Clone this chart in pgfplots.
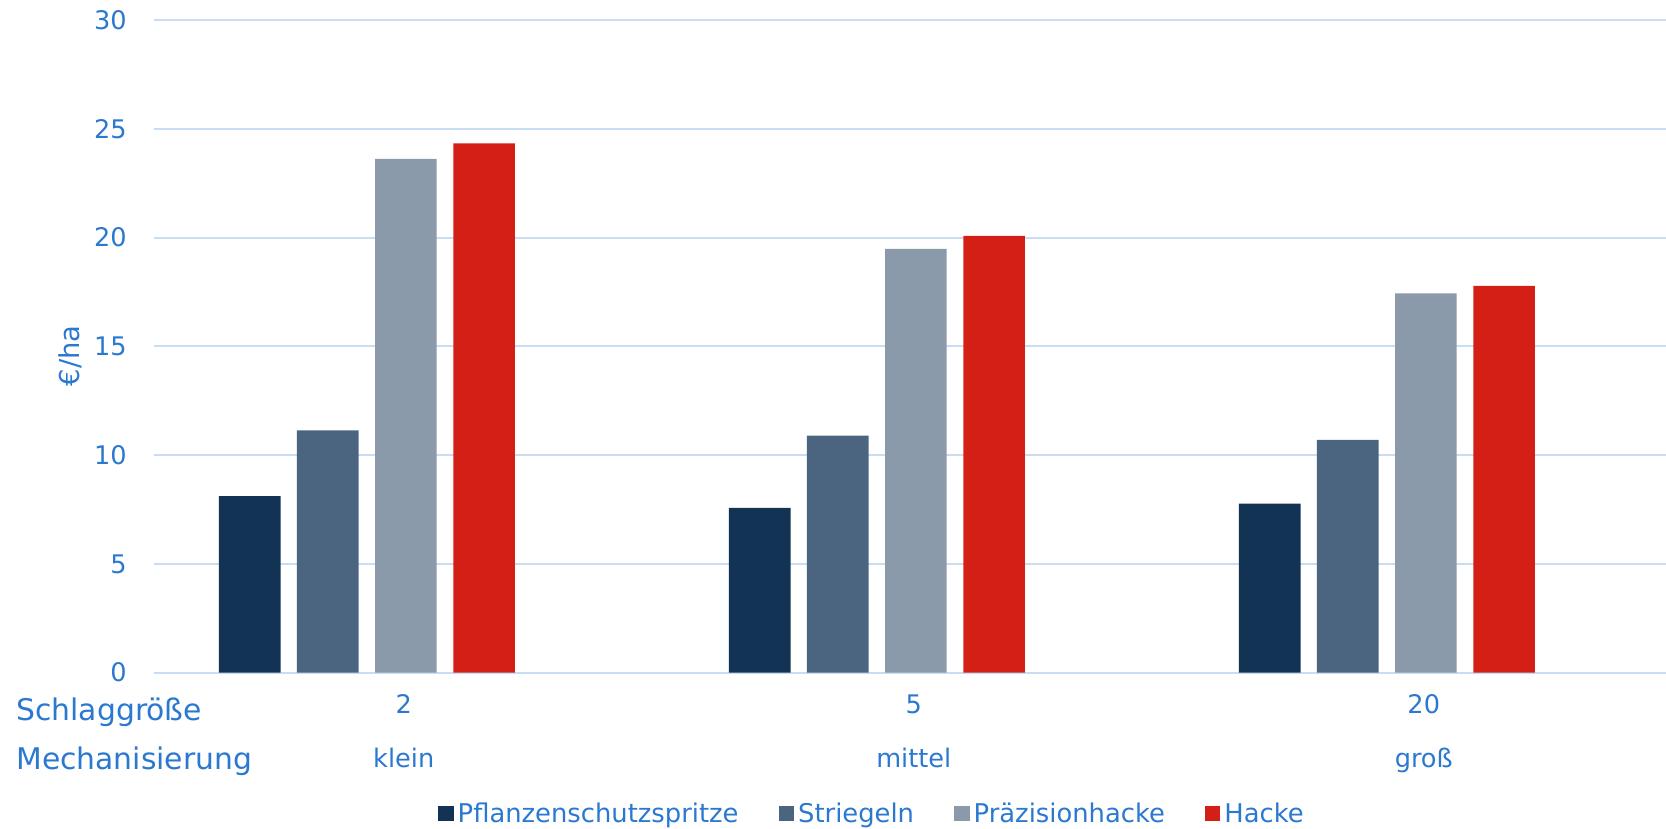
\documentclass[border=0pt]{standalone}
\usepackage{pgfplots}
\pgfplotsset{compat=1.18}
\usepackage{fontspec}
\setmainfont{DejaVu Sans}
\definecolor{txtblue}{HTML}{2B78D0}
\definecolor{gridblue}{HTML}{C8DDF2}
\definecolor{cPfl}{HTML}{133354}
\definecolor{cStr}{HTML}{4B6580}
\definecolor{cPra}{HTML}{8A9AAB}
\definecolor{cHac}{HTML}{D41F16}
\begin{document}
\begin{tikzpicture}[cat/.style={text=txtblue, font=\fontsize{12.8}{15}\selectfont, text height=0.76em, text depth=0.24em}]
\useasboundingbox (-77pt,-78.2pt) rectangle (756pt,336.3pt);
\begin{axis}[
  at={(0pt,0pt)}, anchor=south west,
  scale only axis, width=756pt, height=326.2pt,
  xmin=-0.4897, xmax=2.475, ymin=0, ymax=30,
  ytick={0,5,...,30}, xtick={0,1,2}, xticklabels={},
  major tick length=0pt,
  axis line style={draw=none},
  ymajorgrids, grid style={gridblue, line width=1pt},
  clip=false,
  ybar, bar width=30.8pt,
  /pgf/number format/assume math mode=true,
  yticklabel style={font=\fontsize{12.8}{15}\selectfont, text=txtblue, anchor=east, inner sep=0pt, xshift=-13.5pt},
  legend columns=4,
  legend style={draw=none, fill=none, at={(0.4755,-0.2167)}, anchor=center,
    font=\fontsize{12.9}{15}\selectfont, text=txtblue,
    /tikz/every even column/.append style={column sep=18pt},
    inner sep=0pt},
  legend image code/.code={\fill[#1] (0pt,-3.6pt) rectangle (7.8pt,4.2pt);},
  every axis plot/.append style={draw=none},
]
\addplot[fill=cPfl, bar shift=-77pt] coordinates {(0,8.11) (1,7.57) (2,7.77)};
\addlegendentry{Pflanzenschutzspritze}
\addplot[fill=cStr, bar shift=-38pt] coordinates {(0,11.14) (1,10.9) (2,10.7)};
\addlegendentry{Striegeln}
\addplot[fill=cPra, bar shift=1.05pt] coordinates {(0,23.62) (1,19.49) (2,17.44)};
\addlegendentry{Präzisionhacke}
\addplot[fill=cHac, bar shift=40.2pt] coordinates {(0,24.34) (1,20.08) (2,17.78)};
\addlegendentry{Hacke}
\node[cat] at (axis cs:0,0) [yshift=-18pt] {2};
\node[cat] at (axis cs:1,0) [yshift=-18pt] {5};
\node[cat] at (axis cs:2,0) [yshift=-18pt] {20};
\node[cat] at (axis cs:0,0) [yshift=-45pt] {klein};
\node[cat] at (axis cs:1,0) [yshift=-45pt] {mittel};
\node[cat] at (axis cs:2,0) [yshift=-45pt] {groß};
\end{axis}
\node[text=txtblue, font=\fontsize{14.9}{17}\selectfont, anchor=west, inner sep=0pt] at (-69pt,-19.7pt) {Schlaggröße};
\node[text=txtblue, font=\fontsize{14.9}{17}\selectfont, anchor=west, inner sep=0pt] at (-69pt,-44.2pt) {Mechanisierung};
\node[text=txtblue, font=\fontsize{13.7}{16}\selectfont, rotate=90] at (-42pt,158.3pt) {€/ha};
\end{tikzpicture}
\end{document}
